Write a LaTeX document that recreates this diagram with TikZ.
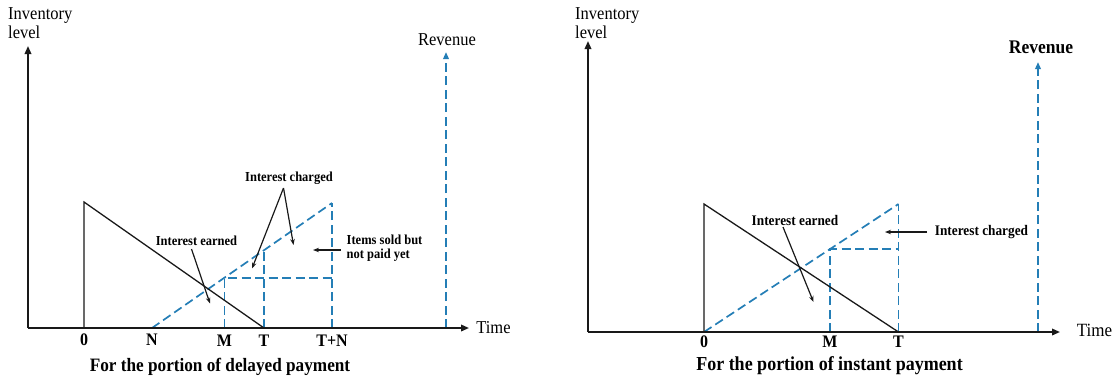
\documentclass[tikz,border=0pt]{standalone}
\usepackage{fontspec}
\usepackage{graphicx}
\setmainfont{Liberation Serif}
\usetikzlibrary{arrows.meta}
\definecolor{dblue}{RGB}{36,126,182}
\definecolor{axc}{RGB}{25,25,25}
\newcommand{\vs}[1]{\scalebox{1}[1.1]{#1}}
\newcommand{\vstwo}[2]{\scalebox{1}[1.1]{\begin{tabular}{@{}l@{}}#1\\#2\end{tabular}}}
\begin{document}
\begin{tikzpicture}[x=1pt,y=-1pt,
  axisline/.style={axc,line width=1.8pt,-{Triangle[length=8pt,width=6.5pt]}},
  solidline/.style={axc,line width=1.3pt},
  bluedash/.style={dblue,line width=1.7pt,dash pattern=on 9pt off 4.5pt},
  bluearrow/.style={bluedash,-{Triangle[length=7pt,width=5.5pt]}},
  notearrow/.style={axc,line width=1.2pt,-{Stealth[length=6pt,width=4.5pt]}},
  lbltxt/.style={inner sep=0pt,font=\fontsize{12.5}{13}\selectfont\bfseries},
  lblrtxt/.style={inner sep=0pt,font=\fontsize{13.3}{16}\selectfont\bfseries},
  ticktxt/.style={inner sep=0pt,font=\fontsize{16}{19}\selectfont\bfseries},
  plaintxt/.style={inner sep=0pt,font=\fontsize{16.5}{17.3}\selectfont},
  captxt/.style={inner sep=0pt,font=\fontsize{17.2}{20}\selectfont\bfseries}]
\useasboundingbox (0,0) rectangle (1114,381);

% ===== Left panel =====
\coordinate (O1) at (28,328);
\coordinate (Y1) at (28,46);
\coordinate (X1) at (469,328);
\coordinate (Z1) at (84,328);
\coordinate (Z1t) at (84,202);
\coordinate (N1) at (152,328);
\coordinate (M1) at (224.5,328);
\coordinate (M1t) at (224.5,277.7);
\coordinate (T1) at (264,328);
\coordinate (T1t) at (264,250.2);
\coordinate (TN1) at (332,328);
\coordinate (TN1t) at (332,203);
\coordinate (TN1m) at (332,277.7);
\coordinate (R1) at (446,328);
\coordinate (R1t) at (446,52);

\draw[bluedash] (N1) -- (TN1t);
\draw[bluedash] (TN1) -- (TN1t);
\draw[bluedash] (M1) -- (M1t) -- (TN1m);
\draw[bluedash] (T1) -- (T1t);
\draw[bluearrow] (R1) -- (R1t);
\draw[solidline] (Z1) -- (Z1t) -- (T1);
\draw[axisline] (O1) -- (Y1);
\draw[axisline] (O1) -- (X1);

\node[plaintxt,anchor=west] (inv1) at (8,25) {\vstwo{Inventory}{level}};
\node[plaintxt] (rev1) at (447,40) {\vs{Revenue}};
\node[plaintxt] (time1) at (493.5,328) {\vs{Time}};
\node[ticktxt] (l0a) at (84,340) {\vs{0}};
\node[ticktxt] (lNa) at (152,340) {\vs{N}};
\node[ticktxt] (lMa) at (224.5,341) {\vs{M}};
\node[ticktxt] (lTa) at (264,341) {\vs{T}};
\node[ticktxt] (lTNa) at (332,341) {\vs{T+N}};
\node[captxt] (cap1) at (220,367) {\vs{For the portion of delayed payment}};

\node[lbltxt] (ic1) at (289,178.5) {\vs{Interest charged}};
\node[lbltxt] (ie1) at (196.5,241) {\vs{Interest earned}};
\node[lbltxt,anchor=west] (is1) at (346.5,248.5) {\vstwo{Items sold but}{not paid yet}};

\coordinate (ic1s) at (283.5,188);
\coordinate (ic1a) at (252,268.5);
\coordinate (ic1b) at (293.5,245);
\draw[notearrow] (ic1s) -- (ic1a);
\draw[notearrow] (ic1s) -- (ic1b);
\coordinate (ie1s) at (191.5,249);
\coordinate (ie1e) at (210,303.5);
\draw[notearrow] (ie1s) -- (ie1e);
\coordinate (is1s) at (340.5,250);
\coordinate (is1e) at (313,250);
\draw[notearrow] (is1s) -- (is1e);

% ===== Right panel =====
\coordinate (O2) at (588,332);
\coordinate (Y2) at (588,41);
\coordinate (X2) at (1060,332);
\coordinate (Z2) at (704,332);
\coordinate (Z2t) at (704,204);
\coordinate (M2) at (830,332);
\coordinate (M2t) at (830,249);
\coordinate (T2) at (898.5,332);
\coordinate (T2t) at (898.5,204);
\coordinate (T2m) at (898.5,249);
\coordinate (R2) at (1038,332);
\coordinate (R2t) at (1038,62);

\draw[bluedash] (Z2) -- (T2t);
\draw[bluedash] (T2) -- (T2t);
\draw[bluedash] (M2) -- (M2t) -- (T2m);
\draw[bluearrow] (R2) -- (R2t);
\draw[solidline] (Z2) -- (Z2t) -- (T2);
\draw[axisline] (O2) -- (Y2);
\draw[axisline] (O2) -- (X2);

\node[plaintxt,anchor=west] (inv2) at (575,25) {\vstwo{Inventory}{level}};
\node[plaintxt,font=\fontsize{17.5}{20}\selectfont\bfseries] (rev2) at (1041,47) {\vs{Revenue}};
\node[plaintxt,font=\fontsize{17}{20}\selectfont] (time2) at (1094.5,330) {\vs{Time}};
\node[ticktxt] (l0b) at (704,342) {\vs{0}};
\node[ticktxt] (lMb) at (830,342) {\vs{M}};
\node[ticktxt] (lTb) at (898.5,342) {\vs{T}};
\node[captxt,font=\fontsize{18}{21}\selectfont\bfseries] (cap2) at (829.5,366) {\vs{For the portion of instant payment}};

\node[lblrtxt] (ie2) at (795,220) {\vs{Interest earned}};
\node[lblrtxt] (ic2) at (981.5,232) {\vs{Interest charged}};
\coordinate (ie2s) at (783,227);
\coordinate (ie2e) at (813.5,302);
\draw[notearrow] (ie2s) -- (ie2e);
\coordinate (ic2s) at (927,232);
\coordinate (ic2e) at (885,232);
\draw[notearrow] (ic2s) -- (ic2e);
\end{tikzpicture}
\end{document}
